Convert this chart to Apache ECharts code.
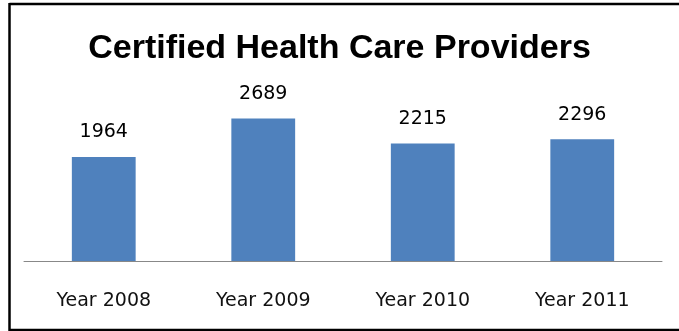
<!DOCTYPE html>
<html>
<head>
<meta charset="utf-8">
<script src="https://cdn.jsdelivr.net/npm/echarts@6/dist/echarts.min.js"></script>
<style>
  html, body { margin: 0; padding: 0; background: #fff; }
  #chart { width: 679px; height: 331px; }
</style>
</head>
<body>
<div id="chart"></div>
<script>
const titleText = 'Certified Health Care Providers';
const years = ['Year 2008', 'Year 2009', 'Year 2010', 'Year 2011'];
const providers = [1964, 2689, 2215, 2296];

const chart = echarts.init(document.getElementById('chart'), null, { renderer: 'canvas' });

// frame round the chart: left, top and bottom edges only (cut off on the right)
const frame = { stroke: '#000', lineWidth: 2.5 };

chart.setOption({
    animation: false,
    backgroundColor: '#fff',
    title: {
        text: titleText,
        left: 'center',
        top: 27,
        textStyle: {
            fontFamily: 'Liberation Sans',
            fontWeight: 'bold',
            fontSize: 34,
            color: '#000'
        }
    },
    graphic: [
        { type: 'line', silent: true, shape: { x1: 9.5, y1: 4, x2: 679, y2: 4 }, style: frame },
        { type: 'line', silent: true, shape: { x1: 9.5, y1: 3, x2: 9.5, y2: 331 }, style: frame },
        { type: 'line', silent: true, shape: { x1: 9.5, y1: 330, x2: 679, y2: 330 }, style: frame }
    ],
    grid: { left: 24, right: 17, top: 102, bottom: 70 },
    xAxis: {
        type: 'category',
        data: years,
        axisLine: { lineStyle: { color: '#888', width: 1 } },
        axisTick: { show: false },
        axisLabel: {
            margin: 31,
            fontFamily: 'DejaVu Sans',
            fontSize: 19,
            color: '#111'
        }
    },
    yAxis: {
        type: 'value',
        min: 0,
        max: 3000,
        show: false
    },
    series: [{
        type: 'bar',
        data: providers,
        barWidth: '40%',
        itemStyle: { color: '#4F81BD' },
        label: {
            show: true,
            position: 'top',
            distance: 15,
            fontFamily: 'DejaVu Sans',
            fontSize: 19,
            color: '#000'
        }
    }]
});
</script>
</body>
</html>
